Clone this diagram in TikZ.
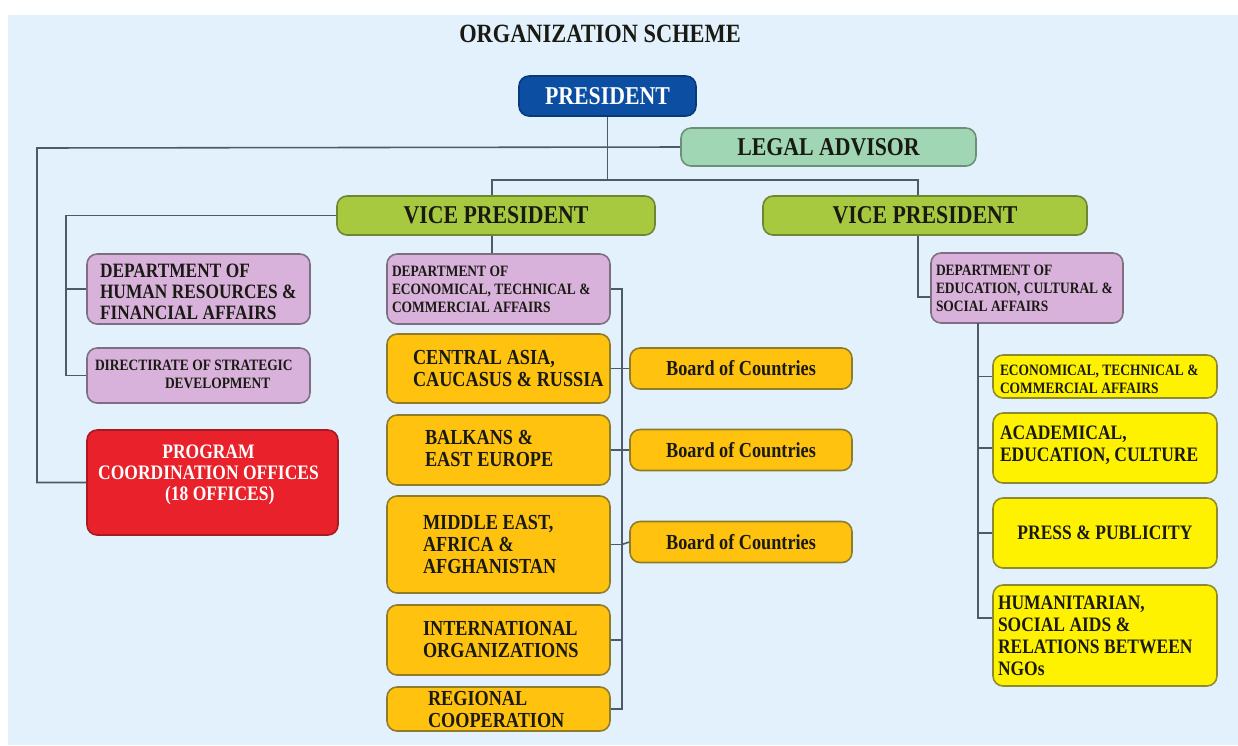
\documentclass[tikz,border=0pt]{standalone}
\usepackage{fontspec}
\setmainfont{Liberation Serif}[FakeStretch=0.85]
\usetikzlibrary{calc}
\definecolor{bg}{HTML}{E2F1FB}
\definecolor{txt}{HTML}{1A1A14}
\definecolor{lin}{HTML}{4D5B66}
\definecolor{presf}{HTML}{0B4EA2}\definecolor{presd}{HTML}{083A7A}
\definecolor{legf}{HTML}{A0D6B4}\definecolor{legd}{HTML}{6C8F7A}
\definecolor{vpf}{HTML}{A7C940}\definecolor{vpd}{HTML}{6F8530}
\definecolor{lilf}{HTML}{D8B2DA}\definecolor{lild}{HTML}{7D6F80}
\definecolor{redf}{HTML}{E8212B}\definecolor{redd}{HTML}{A81A22}
\definecolor{orf}{HTML}{FFC20F}\definecolor{ord}{HTML}{8E7B2C}
\definecolor{yef}{HTML}{FFF200}\definecolor{yed}{HTML}{8E8A2E}
\newcommand{\tightsp}{\spaceskip=0.22em plus 0.06em minus 0.04em\xspaceskip=0.25em\relax}
\newcommand{\lft}[2][1.2pt]{\tightsp\raisebox{-#1}[\height][\depth]{\begin{tabular}{@{}l@{}}#2\end{tabular}}}
\tikzset{
  box/.style={draw, rounded corners=0.2cm, line width=0.9pt, inner sep=0pt, text=txt},
  conn/.style={draw=lin, line width=0.9pt},
  fbig/.style={font=\bfseries\fontsize{14.6}{16}\selectfont},
  fmid/.style={font=\bfseries\fontsize{11.6}{12}\selectfont},
  forg/.style={font=\bfseries\fontsize{12.2}{12.5}\selectfont},
  fyel/.style={font=\bfseries\fontsize{11.7}{12.5}\selectfont},
  fsml/.style={font=\bfseries\fontsize{9}{10.2}\selectfont},
  lilac/.style={box, fill=lilf, draw=lild},
  orangebox/.style={box, fill=orf, draw=ord, forg},
  yellowbox/.style={box, fill=yef, draw=yed, fyel},
}
\begin{document}
\begin{tikzpicture}[x=0.02cm,y=-0.02cm]
\useasboundingbox (0,0) rectangle (1238,745);
\fill[white] (0,0) rectangle (1238,745);
\fill[bg] (8,15) rectangle (1238,745);

\node[font=\bfseries\fontsize{15}{16}\selectfont, text=txt] (title) at (600,34) {ORGANIZATION SCHEME};

% top level
\node[box, fill=presf, draw=presd, text=white, fbig, minimum width=3.54cm, minimum height=0.8cm] (pres) at (607.5,96) {PRESIDENT};
\node[box, fill=legf, draw=legd, fbig, minimum width=5.9cm, minimum height=0.76cm] (legal) at (828.5,147) {LEGAL ADVISOR};
\node[box, fill=vpf, draw=vpd, fbig, minimum width=6.36cm, minimum height=0.78cm] (vpl) at (496,215.5) {VICE PRESIDENT};
\node[box, fill=vpf, draw=vpd, fbig, minimum width=6.48cm, minimum height=0.78cm] (vpr) at (925,215.5) {VICE PRESIDENT};

% left column
\node[lilac, fmid, text width=3.94cm, inner xsep=0.26cm, align=left, minimum height=1.4cm] (hr) at (198.5,289) {\lft[2.8pt]{DEPARTMENT OF\\HUMAN RESOURCES \&\\FINANCIAL AFFAIRS}};
\node[lilac, fsml, text width=4.14cm, inner xsep=0.16cm, align=left, minimum height=1.1cm] (dir) at (198.5,375.5) {\lft[0pt]{DIRECTIRATE OF STRATEGIC\\\hspace*{1.4cm}DEVELOPMENT}};
\node[box, fill=redf, draw=redd, minimum width=5.02cm, minimum height=2.1cm] (prog) at (212.5,482.5) {};
\node[text=white, font=\bfseries\fontsize{11.7}{11.9}\selectfont, align=center, inner sep=0pt] (progt) at ($(prog.center)+(-4,-8)$) {\tightsp PROGRAM\\COORDINATION OFFICES\\\hspace*{0.45cm}(18 OFFICES)};

% middle column
\node[lilac, fsml, text width=4.26cm, inner xsep=0.1cm, align=left, minimum height=1.4cm] (econ) at (498.5,289) {\lft[1.1pt]{DEPARTMENT OF\\ECONOMICAL, TECHNICAL \&\\COMMERCIAL AFFAIRS}};
\node[orangebox, text width=3.42cm, inner xsep=0.52cm, align=left, minimum height=1.38cm] (ca) at (498.5,368.5) {\lft[1.4pt]{CENTRAL ASIA,\\CAUCASUS \& RUSSIA}};
\node[orangebox, text width=2.94cm, inner xsep=0.76cm, align=left, minimum height=1.4cm] (bal) at (498.5,450) {\lft[0.6pt]{BALKANS \&\\EAST EUROPE}};
\node[orangebox, text width=3.02cm, inner xsep=0.72cm, align=left, minimum height=1.94cm] (me) at (498.5,544.5) {\lft[1.7pt]{MIDDLE EAST,\\AFRICA \&\\AFGHANISTAN}};
\node[orangebox, text width=3.02cm, inner xsep=0.72cm, align=left, minimum height=1.4cm] (intl) at (498.5,640) {\lft[1.1pt]{INTERNATIONAL\\ORGANIZATIONS}};
\node[orangebox, text width=2.82cm, inner xsep=0.82cm, align=left, minimum height=0.88cm] (reg) at (498.5,709) {\lft[1.7pt]{REGIONAL\\COOPERATION}};

\node[orangebox, minimum width=4.44cm, minimum height=0.82cm] (b1) at (741,368.5) {Board of Countries};
\node[orangebox, minimum width=4.44cm, minimum height=0.82cm] (b2) at (741,450) {Board of Countries};
\node[orangebox, minimum width=4.44cm, minimum height=0.82cm] (b3) at (741,542) {Board of Countries};

% right column
\node[lilac, fsml, text width=3.64cm, inner xsep=0.1cm, align=left, minimum height=1.4cm] (edu) at (1027,288) {\lft[1.1pt]{DEPARTMENT OF\\EDUCATION, CULTURAL \&\\SOCIAL AFFAIRS}};
\node[box, fill=yef, draw=yed, fsml, text width=4.2cm, inner xsep=0.14cm, align=left, minimum height=0.86cm] (yec) at (1105,376.5) {\lft[2.3pt]{ECONOMICAL, TECHNICAL \&\\COMMERCIAL AFFAIRS}};
\node[yellowbox, text width=4.2cm, inner xsep=0.14cm, align=left, minimum height=1.4cm] (acad) at (1105,448) {\lft[-1.1pt]{ACADEMICAL,\\EDUCATION, CULTURE}};
\node[yellowbox, align=center, minimum width=4.48cm, minimum height=1.4cm] (press) at (1105,533) {\tightsp PRESS \& PUBLICITY};
\node[yellowbox, text width=4.28cm, inner xsep=0.1cm, align=left, minimum height=2.02cm] (hum) at (1105,635.5) {\lft[1.7pt]{HUMANITARIAN,\\SOCIAL AIDS \&\\RELATIONS BETWEEN\\NGOs}};

% connector junctions
\coordinate (hy) at (0,180);
\coordinate (lc) at (37,148);
\coordinate (lv) at (66,215.5);
\coordinate (ev) at (622,289);
\coordinate (ry) at (0,297);
\coordinate (rv) at (978,323);
\coordinate (hy2) at (0,618);
\coordinate (vlx) at ($(vpl.north)+(-4,0)$);
\coordinate (vrx) at ($(vpr.north)+(-7,0)$);

% connectors
\draw[conn] (pres.south) -- (pres.south |- hy);
\draw[conn] (vlx) -- (vlx |- hy) -- (vrx |- hy) -- (vrx);
\draw[conn] (legal.west) -- (lc) |- (prog.west);
\draw[conn] (vpl.west) -- (lv) |- (dir.west);
\draw[conn] (lv |- hr.west) -- (hr.west);
\draw[conn] (vlx |- vpl.south) -- (vlx |- econ.north);
\draw[conn] (econ.east) -- (ev) |- (reg.east);
\draw[conn] (intl.east) -- (ev |- intl.east);
\draw[conn] (ca.east) -- (b1.west);
\draw[conn] (bal.east) -- (b2.west);
\draw[conn] (me.east -| ev) -- (b3.west);
\draw[conn] (me.east) -- (me.east -| ev);
\draw[conn] (vrx |- vpr.south) -- (vrx |- ry) -- (edu.west |- ry);
\draw[conn] (rv) -- (rv |- hy2) -- (hum.west |- hy2);
\draw[conn] (rv |- yec.west) -- (yec.west);
\draw[conn] (rv |- acad.west) -- (acad.west);
\draw[conn] (rv |- press.west) -- (press.west);
\end{tikzpicture}
\end{document}
